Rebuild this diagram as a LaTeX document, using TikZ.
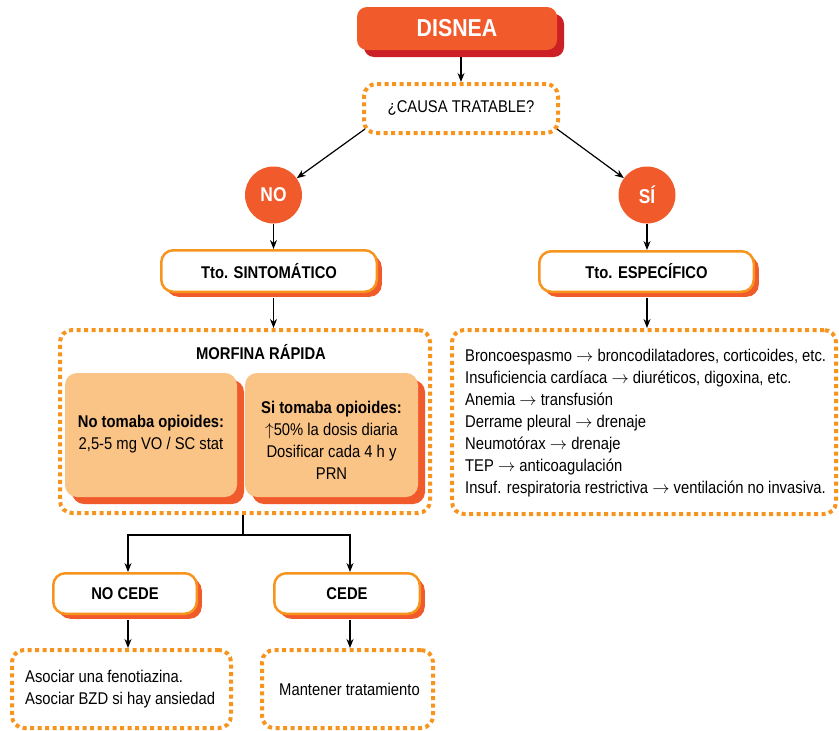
\documentclass[tikz,border=0pt]{standalone}
\usepackage{fontspec}
\setmainfont{Liberation Sans}[FakeStretch=0.87]
\usetikzlibrary{shadows,arrows.meta,calc}
\definecolor{ored}{HTML}{F15A2B}
\definecolor{dred}{HTML}{CC1F26}
\definecolor{oline}{HTML}{F7941D}
\definecolor{lfill}{HTML}{FBC487}
\begin{document}
\begin{tikzpicture}[x=1pt,y=-1pt,
  arr/.style={-{Stealth[length=9pt,width=7pt]}, line width=1.2pt},
  conn/.style={line width=1.2pt},
  dotbox/.style={draw=oline, line width=4pt, dash pattern=on 4pt off 3.5pt, rounded corners=12pt, fill=white},
  mainbox/.style={fill=ored, rounded corners=10pt, text=white, font=\bfseries\fontsize{24.5}{28}\selectfont,
     general shadow={fill=dred, shadow xshift=7pt, shadow yshift=-7pt}},
  circ/.style={circle, fill=ored, text=white, font=\bfseries\fontsize{20}{24}\selectfont, minimum size=57pt, inner sep=0pt},
  wbox/.style={draw=oline, fill=white, line width=2.5pt, rounded corners=12pt, font=\bfseries\fontsize{17}{20}\selectfont,
     general shadow={fill=ored, shadow xshift=5pt, shadow yshift=-5pt}},
  ibox/.style={fill=lfill, rounded corners=12pt, general shadow={fill=ored, shadow xshift=7pt, shadow yshift=-7pt}},
  txt/.style={font=\fontsize{17}{22}\selectfont, inner sep=0pt},
]
\useasboundingbox (0,0) rectangle (839,731);

% top
\node[mainbox, minimum width=200pt, minimum height=43pt] (dis) at (457,28.5) {DISNEA};
\node[dotbox, minimum width=194pt, minimum height=49pt, txt] (causa) at (461,108.5) {¿CAUSA TRATABLE?};
\node[circ] (no) at (273.5,195) {NO};
\node[circ] (si) at (647,195) {SÍ};

\node[wbox, minimum width=215.5pt, minimum height=41.5pt] (sint) at (269,271) {Tto. SINTOMÁTICO};
\node[wbox, minimum width=214.5pt, minimum height=40.5pt] (esp) at (646.5,271.5) {Tto. ESPECÍFICO};

% morfina
\node[dotbox, minimum width=370pt, minimum height=183pt] (morf) at (245,421.5) {};
\node[txt, font=\bfseries\fontsize{17}{20}\selectfont] (mtit) at (261,352) {MORFINA RÁPIDA};
\node[ibox, minimum width=172pt, minimum height=124pt] (il) at (151,435) {};
\node[ibox, minimum width=173pt, minimum height=124pt] (ir) at (331.5,435) {};
\node[txt, align=center] (ilt) at (151,434) {\textbf{No tomaba opioides:}\\2,5-5 mg VO / SC stat};
\node[txt, align=center] (irt) at (331.5,440.5) {\textbf{Si tomaba opioides:}\\$\uparrow$50\% la dosis diaria\\Dosificar cada 4 h y\\PRN};

% list
\node[dotbox, minimum width=384pt, minimum height=184pt] (lst) at (644,422) {};
\node[txt, align=left, anchor=west] (lstt) at (465,423) {Broncoespasmo $\rightarrow$ broncodilatadores, corticoides, etc.\\
Insuficiencia cardíaca $\rightarrow$ diuréticos, digoxina, etc.\\
Anemia $\rightarrow$ transfusión\\
Derrame pleural $\rightarrow$ drenaje\\
Neumotórax $\rightarrow$ drenaje\\
TEP $\rightarrow$ anticoagulación\\
Insuf. respiratoria restrictiva $\rightarrow$ ventilación no invasiva.};

% bottom
\node[wbox, minimum width=143.5pt, minimum height=40.5pt] (nocede) at (125,593.5) {NO CEDE};
\node[wbox, minimum width=145.5pt, minimum height=40.5pt] (cede) at (347,593.5) {CEDE};
\node[dotbox, minimum width=219pt, minimum height=78pt] (bl) at (121.5,689) {};
\node[dotbox, minimum width=171pt, minimum height=78pt] (br) at (347.5,689) {};
\node[txt, align=left, anchor=west] (blt) at (25,689) {Asociar una fenotiazina.\\Asociar BZD si hay ansiedad};
\node[txt] (brt) at (349.5,689) {Mantener tratamiento};

% connectors
\draw[arr, shorten <=7pt] (dis.south -| causa.north) -- (causa.north);
\draw[arr] ($(causa.south west)+(3,-6)$) -- (no);
\draw[arr] ($(causa.south east)+(-3,-6)$) -- (si);
\draw[arr] (no.south) -- (no.south |- sint.north);
\draw[arr] (si.south) -- (si.south |- esp.north);
\draw[arr, shorten <=5pt] (sint.south -| no.south) -- (no.south |- morf.north);
\draw[arr, shorten <=5pt] (esp.south -| si.south) -- (si.south |- lst.north);
\coordinate (split) at (243,535);
\draw[conn] (morf.south -| split) -- (split);
\draw[arr] (split) -| ($(nocede.north)+(3,0)$);
\draw[arr] (split) -| ($(cede.north)+(3,0)$);
\draw[arr, shorten <=5pt] ($(nocede.south)+(3,0)$) -- ($(nocede.south |- bl.north)+(3,0)$);
\draw[arr, shorten <=5pt] ($(cede.south)+(3,0)$) -- ($(cede.south |- br.north)+(3,0)$);
\end{tikzpicture}
\end{document}
